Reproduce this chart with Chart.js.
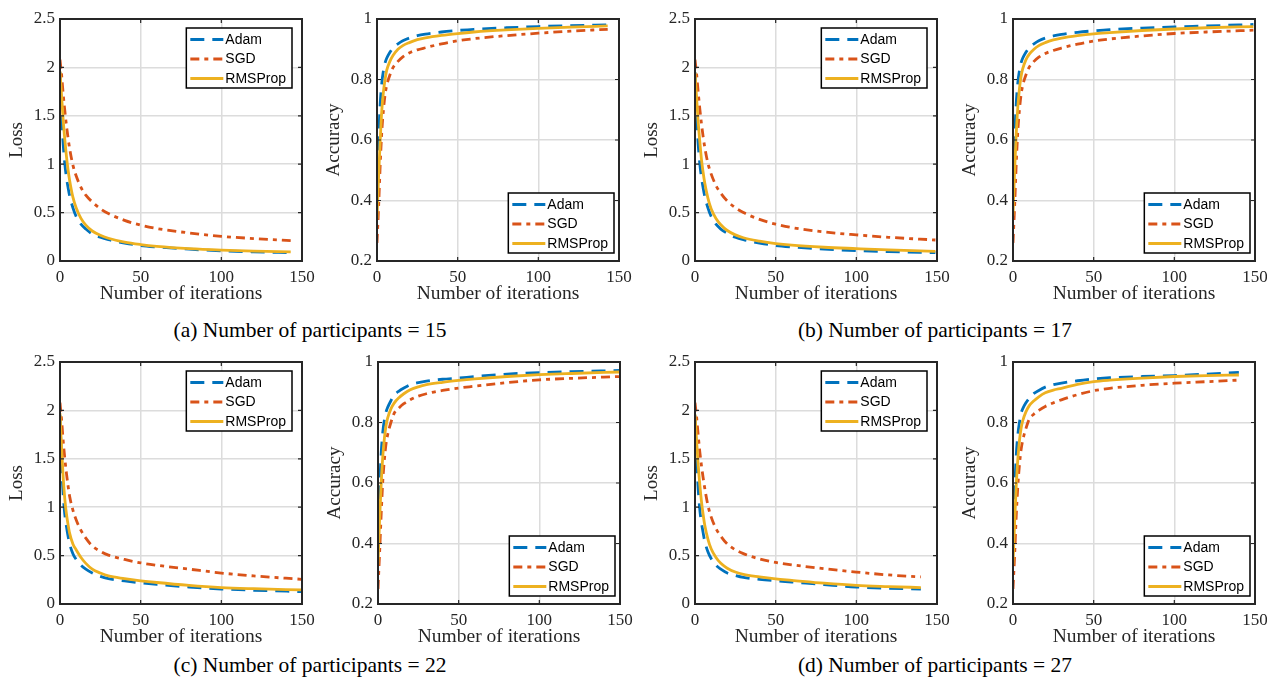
<!DOCTYPE html>
<html>
<head>
<meta charset="utf-8">
<script src="https://cdn.jsdelivr.net/npm/chart.js@4.4.1/dist/chart.umd.min.js"></script>
<style>
  body { margin: 0; background: #fff; width: 1267px; height: 678px; position: relative; overflow: hidden; }
  .panel { position: absolute; }
  .caption { position: absolute; width: 420px; text-align: center; font-family: "Liberation Serif", serif; font-size: 21.5px; line-height: 24px; color: #000; }
</style>
</head>
<body>
<div class="panel" style="left:0px;top:4px"><canvas id="lossA" width="322" height="302"></canvas></div>
<div class="panel" style="left:317px;top:4px"><canvas id="accA" width="322" height="302"></canvas></div>
<div class="panel" style="left:635px;top:4px"><canvas id="lossB" width="322" height="302"></canvas></div>
<div class="panel" style="left:953px;top:4px"><canvas id="accB" width="314" height="302"></canvas></div>
<div class="panel" style="left:0px;top:347px"><canvas id="lossC" width="322" height="302"></canvas></div>
<div class="panel" style="left:318px;top:347px"><canvas id="accC" width="322" height="302"></canvas></div>
<div class="panel" style="left:635px;top:347px"><canvas id="lossD" width="322" height="302"></canvas></div>
<div class="panel" style="left:953px;top:347px"><canvas id="accD" width="314" height="302"></canvas></div>

<div class="caption" style="left:100px;top:318px">(a) Number of participants = 15</div>
<div class="caption" style="left:725px;top:318px">(b) Number of participants = 17</div>
<div class="caption" style="left:100px;top:653px">(c) Number of participants = 22</div>
<div class="caption" style="left:725px;top:653px">(d) Number of participants = 27</div>

<script>
// data //

const seriesNames = ['Adam', 'SGD', 'RMSProp'];
const iterTicks = [0, 50, 100, 150];
const lossTicks = [0, 0.5, 1, 1.5, 2, 2.5];
const accTicks = [0.2, 0.4, 0.6, 0.8, 1];

// (a) 15 participants
const itersA = [0, 1, 2, 3, 4, 5, 6, 8, 10, 13, 16, 20, 25, 30, 40, 50, 60, 80, 100, 120, 143];
const lossAdamA = [1.95, 1.5, 1.2, 1.0, 0.86, 0.76, 0.67, 0.55, 0.46, 0.38, 0.33, 0.28, 0.245, 0.22, 0.185, 0.16, 0.145, 0.122, 0.105, 0.095, 0.085];
const lossSgdA = [2.08, 1.92, 1.72, 1.55, 1.4, 1.27, 1.16, 0.99, 0.88, 0.76, 0.68, 0.61, 0.54, 0.49, 0.42, 0.37, 0.335, 0.29, 0.255, 0.232, 0.21];
const lossRmsA = [1.96, 1.7, 1.45, 1.25, 1.08, 0.94, 0.83, 0.66, 0.55, 0.44, 0.37, 0.31, 0.265, 0.235, 0.195, 0.17, 0.152, 0.128, 0.113, 0.103, 0.095];
const accAdamA = [0.42, 0.6, 0.72, 0.79, 0.83, 0.855, 0.87, 0.89, 0.905, 0.918, 0.928, 0.937, 0.945, 0.95, 0.957, 0.962, 0.966, 0.971, 0.975, 0.978, 0.981];
const accSgdA = [0.26, 0.38, 0.52, 0.63, 0.7, 0.75, 0.78, 0.815, 0.84, 0.86, 0.875, 0.888, 0.898, 0.905, 0.918, 0.928, 0.935, 0.945, 0.953, 0.96, 0.966];
const accRmsA = [0.34, 0.48, 0.6, 0.7, 0.76, 0.8, 0.83, 0.86, 0.88, 0.9, 0.912, 0.922, 0.932, 0.938, 0.946, 0.952, 0.957, 0.964, 0.969, 0.973, 0.977];

// (b) 17 participants
const itersB = [0, 1, 2, 3, 4, 5, 6, 8, 10, 13, 16, 20, 25, 30, 40, 50, 60, 80, 100, 120, 149];
const lossAdamB = [1.95, 1.5, 1.2, 1.0, 0.86, 0.76, 0.67, 0.55, 0.46, 0.38, 0.33, 0.285, 0.245, 0.22, 0.185, 0.16, 0.145, 0.123, 0.107, 0.097, 0.086];
const lossSgdB = [2.08, 1.93, 1.74, 1.57, 1.42, 1.29, 1.18, 1.01, 0.9, 0.78, 0.7, 0.62, 0.55, 0.5, 0.43, 0.38, 0.345, 0.3, 0.27, 0.245, 0.217];
const lossRmsB = [1.95, 1.68, 1.43, 1.23, 1.05, 0.92, 0.81, 0.65, 0.54, 0.44, 0.375, 0.315, 0.27, 0.24, 0.205, 0.18, 0.163, 0.142, 0.128, 0.115, 0.1];
const accAdamB = [0.42, 0.6, 0.72, 0.79, 0.83, 0.855, 0.87, 0.89, 0.905, 0.918, 0.928, 0.937, 0.944, 0.949, 0.956, 0.961, 0.965, 0.97, 0.974, 0.977, 0.982];
const accSgdB = [0.26, 0.38, 0.52, 0.63, 0.7, 0.75, 0.78, 0.815, 0.84, 0.86, 0.874, 0.886, 0.896, 0.904, 0.917, 0.927, 0.934, 0.944, 0.952, 0.957, 0.963];
const accRmsB = [0.35, 0.5, 0.62, 0.71, 0.77, 0.81, 0.835, 0.865, 0.883, 0.9, 0.912, 0.922, 0.931, 0.937, 0.945, 0.951, 0.955, 0.962, 0.967, 0.971, 0.975];

// (c) 22 participants
const itersC = [0, 1, 2, 3, 4, 5, 6, 8, 10, 13, 16, 20, 25, 30, 40, 50, 60, 80, 100, 120, 150];
const lossAdamC = [1.95, 1.45, 1.12, 0.92, 0.8, 0.7, 0.62, 0.52, 0.46, 0.4, 0.36, 0.32, 0.285, 0.262, 0.238, 0.218, 0.202, 0.175, 0.155, 0.142, 0.128];
const lossSgdC = [2.08, 1.9, 1.68, 1.5, 1.35, 1.22, 1.11, 0.97, 0.87, 0.76, 0.68, 0.6, 0.545, 0.505, 0.46, 0.425, 0.4, 0.36, 0.32, 0.29, 0.255];
const lossRmsC = [1.97, 1.6, 1.3, 1.08, 0.93, 0.82, 0.73, 0.62, 0.56, 0.48, 0.42, 0.36, 0.32, 0.29, 0.262, 0.24, 0.222, 0.192, 0.17, 0.158, 0.145];
const accAdamC = [0.4, 0.58, 0.7, 0.77, 0.81, 0.835, 0.85, 0.872, 0.89, 0.904, 0.914, 0.925, 0.932, 0.937, 0.943, 0.947, 0.952, 0.96, 0.965, 0.968, 0.972];
const accSgdC = [0.25, 0.37, 0.5, 0.61, 0.68, 0.73, 0.76, 0.8, 0.83, 0.848, 0.862, 0.875, 0.887, 0.895, 0.906, 0.914, 0.92, 0.932, 0.941, 0.946, 0.952];
const accRmsC = [0.33, 0.48, 0.6, 0.69, 0.75, 0.79, 0.815, 0.845, 0.864, 0.882, 0.895, 0.908, 0.918, 0.925, 0.933, 0.939, 0.944, 0.952, 0.958, 0.962, 0.967];

// (d) 27 participants
const itersD = [0, 1, 2, 3, 4, 5, 6, 8, 10, 13, 16, 20, 25, 30, 40, 50, 60, 80, 100, 120, 140];
const lossAdamD = [1.95, 1.5, 1.18, 0.97, 0.84, 0.74, 0.65, 0.54, 0.47, 0.4, 0.36, 0.32, 0.295, 0.275, 0.255, 0.24, 0.227, 0.2, 0.175, 0.163, 0.155];
const lossSgdD = [2.08, 1.93, 1.74, 1.57, 1.43, 1.31, 1.2, 1.02, 0.9, 0.78, 0.7, 0.62, 0.56, 0.52, 0.465, 0.43, 0.405, 0.365, 0.33, 0.3, 0.28];
const lossRmsD = [1.96, 1.68, 1.43, 1.23, 1.06, 0.93, 0.82, 0.67, 0.57, 0.48, 0.42, 0.37, 0.33, 0.305, 0.28, 0.26, 0.245, 0.215, 0.192, 0.18, 0.17];
const accAdamD = [0.4, 0.57, 0.69, 0.76, 0.8, 0.83, 0.845, 0.865, 0.88, 0.896, 0.906, 0.917, 0.925, 0.93, 0.938, 0.944, 0.948, 0.952, 0.955, 0.96, 0.966];
const accSgdD = [0.25, 0.36, 0.49, 0.59, 0.66, 0.71, 0.74, 0.78, 0.81, 0.828, 0.84, 0.853, 0.865, 0.875, 0.892, 0.905, 0.913, 0.923, 0.93, 0.935, 0.94];
const accRmsD = [0.33, 0.47, 0.59, 0.68, 0.74, 0.78, 0.805, 0.835, 0.855, 0.872, 0.885, 0.898, 0.907, 0.913, 0.926, 0.935, 0.94, 0.947, 0.952, 0.955, 0.957];

// styles //

const seriesColors = ['#0072BD', '#D95319', '#EDB120'];
const seriesDash = [[14, 8], [9, 5, 4, 5], []];
const axisColor = '#262626';
const gridColor = '#dcdcdc';

Chart.defaults.font.family = '"Liberation Serif", serif';
Chart.defaults.color = axisColor;

function fmt(v) {
    return String(parseFloat(Number(v).toFixed(2)));
}

// box round the plot, inward ticks on all four sides, legend with border
const matlabBox = {
    id: 'matlabBox',
    afterDraw(chart, args, opts) {
        const ctx = chart.ctx;
        const a = chart.chartArea;
        const xs = chart.scales.x;
        const ys = chart.scales.y;
        ctx.save();

        ctx.strokeStyle = axisColor;
        ctx.lineWidth = 1.2;
        ctx.beginPath();
        xs.ticks.forEach(t => {
            const p = xs.getPixelForValue(t.value);
            ctx.moveTo(p, a.bottom); ctx.lineTo(p, a.bottom - 4);
            ctx.moveTo(p, a.top); ctx.lineTo(p, a.top + 4);
        });
        ys.ticks.forEach(t => {
            const p = ys.getPixelForValue(t.value);
            ctx.moveTo(a.left, p); ctx.lineTo(a.left + 4, p);
            ctx.moveTo(a.right, p); ctx.lineTo(a.right - 4, p);
        });
        ctx.stroke();

        ctx.lineWidth = 2;
        ctx.strokeRect(a.left, a.top, a.right - a.left, a.bottom - a.top);

        // legend
        ctx.font = '14px "Liberation Sans", Arial, sans-serif';
        const sets = chart.data.datasets;
        let maxW = 0;
        sets.forEach(ds => { maxW = Math.max(maxW, ctx.measureText(ds.label).width); });
        const w = 39 + maxW + 6;
        const h = 60;
        const left = a.right - opts.right - w;
        const top = opts.corner === 'top' ? a.top + opts.offset : a.bottom - opts.offset - h;

        ctx.fillStyle = '#fff';
        ctx.fillRect(left, top, w, h);
        ctx.lineWidth = 1.5;
        ctx.strokeStyle = '#000';
        ctx.setLineDash([]);
        ctx.strokeRect(left, top, w, h);

        sets.forEach((ds, i) => {
            const y = top + 11.5 + i * 19.5;
            ctx.strokeStyle = ds.borderColor;
            ctx.lineWidth = ds.borderWidth;
            ctx.setLineDash(ds.borderDash || []);
            ctx.beginPath();
            ctx.moveTo(left + 4, y);
            ctx.lineTo(left + 37, y);
            ctx.stroke();
            ctx.setLineDash([]);
            ctx.fillStyle = '#000';
            ctx.textBaseline = 'middle';
            ctx.textAlign = 'left';
            ctx.fillText(ds.label, left + 39, y + 0.5);
        });

        ctx.restore();
    }
};

function makePanel(id, kind, iters, adam, sgd, rms) {
    const isLoss = kind === 'loss';
    const yTicks = isLoss ? lossTicks : accTicks;
    const pts = arr => iters.map((x, i) => ({ x: x, y: arr[i] }));
    const values = [adam, sgd, rms];
    const canvas = document.getElementById(id);

    const datasets = values.map((arr, i) => ({
        label: seriesNames[i],
        data: pts(arr),
        borderColor: seriesColors[i],
        borderDash: seriesDash[i],
        borderWidth: 2.8,
        pointRadius: 0,
        fill: false,
        cubicInterpolationMode: 'monotone',
        order: 2 - i   // RMSProp drawn last, on top
    }));

    return new Chart(canvas, {
        type: 'line',
        data: { datasets: datasets },
        options: {
            responsive: false,
            animation: false,
            events: [],
            // plot box is 242 px wide, starting 60 px from the canvas left
            layout: { padding: { top: 15, right: canvas.width - 302, left: 0, bottom: 0 } },
            plugins: {
                legend: { display: false },
                tooltip: { enabled: false },
                matlabBox: isLoss ? { corner: 'top', offset: 9, right: 10 } : { corner: 'bottom', offset: 8, right: 5 }
            },
            scales: {
                x: {
                    type: 'linear',
                    min: iterTicks[0],
                    max: iterTicks[iterTicks.length - 1],
                    afterBuildTicks: s => { s.ticks = iterTicks.map(v => ({ value: v })); },
                    afterFit: s => { s.height = 45; s.paddingLeft = 0; s.paddingRight = 0; },
                    grid: { color: gridColor, lineWidth: 1.5, drawTicks: false },
                    border: { display: false },
                    ticks: { padding: 6, autoSkip: false, maxRotation: 0, font: { size: 17 }, color: axisColor, callback: v => fmt(v) },
                    title: { display: true, text: 'Number of iterations', font: { size: 19.5 }, color: axisColor, padding: { top: 0, bottom: 0 } }
                },
                y: {
                    type: 'linear',
                    min: yTicks[0],
                    max: yTicks[yTicks.length - 1],
                    afterBuildTicks: s => { s.ticks = yTicks.map(v => ({ value: v })); },
                    afterFit: s => { s.width = 60; s.paddingTop = 0; s.paddingBottom = 0; },
                    grid: { color: gridColor, lineWidth: 1.5, drawTicks: false },
                    border: { display: false },
                    ticks: { padding: 5, autoSkip: false, font: { size: 17 }, color: axisColor, callback: v => fmt(v) },
                    title: { display: true, text: isLoss ? 'Loss' : 'Accuracy', font: { size: 19 }, color: axisColor, padding: { top: 6, bottom: 0 } }
                }
            }
        },
        plugins: [matlabBox]
    });
}

document.addEventListener("DOMContentLoaded", function() {
    makePanel('lossA', 'loss', itersA, lossAdamA, lossSgdA, lossRmsA);
    makePanel('accA', 'acc', itersA, accAdamA, accSgdA, accRmsA);
    makePanel('lossB', 'loss', itersB, lossAdamB, lossSgdB, lossRmsB);
    makePanel('accB', 'acc', itersB, accAdamB, accSgdB, accRmsB);
    makePanel('lossC', 'loss', itersC, lossAdamC, lossSgdC, lossRmsC);
    makePanel('accC', 'acc', itersC, accAdamC, accSgdC, accRmsC);
    makePanel('lossD', 'loss', itersD, lossAdamD, lossSgdD, lossRmsD);
    makePanel('accD', 'acc', itersD, accAdamD, accSgdD, accRmsD);
});
</script>
</body>
</html>
